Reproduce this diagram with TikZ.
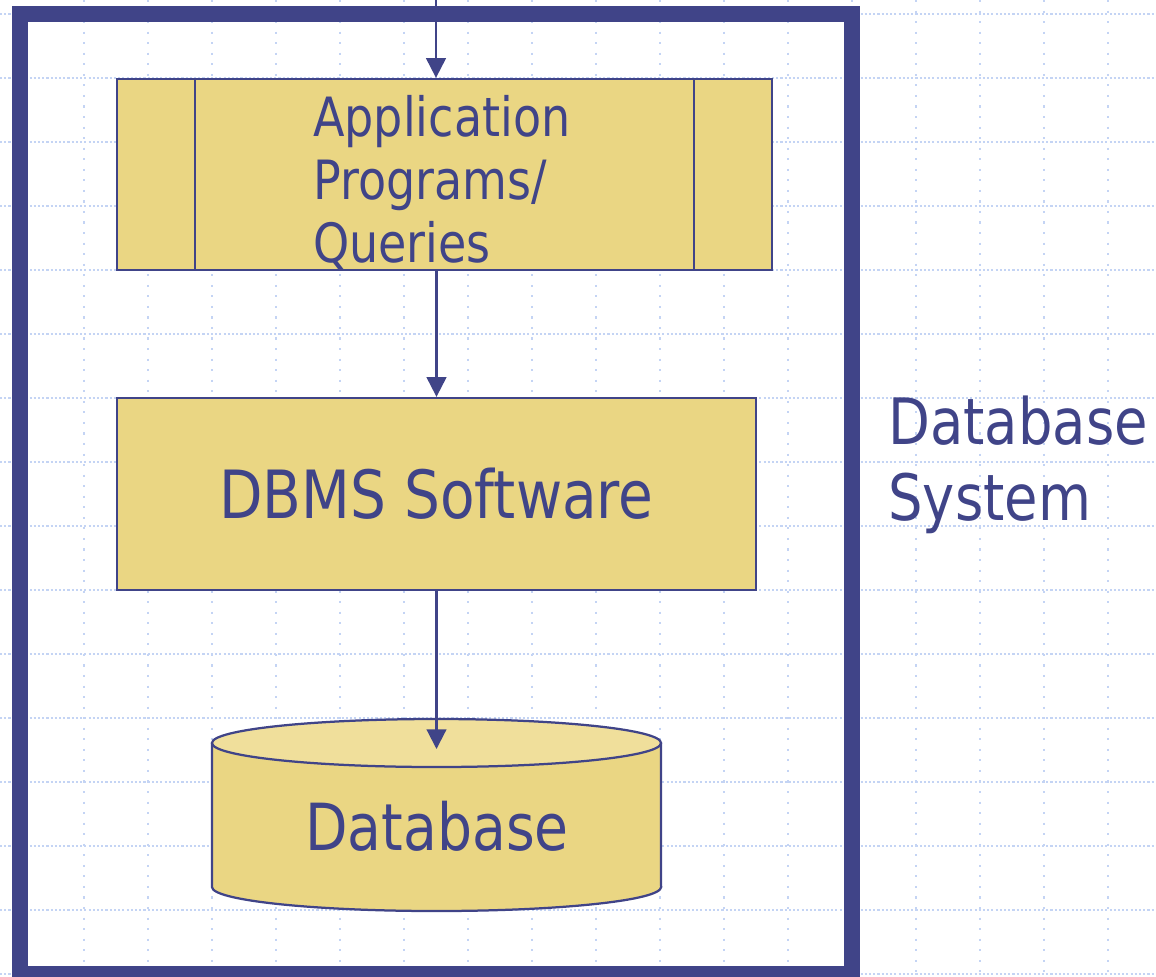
\documentclass[tikz,border=0pt]{standalone}
\usepackage{fontspec}
\setmainfont{DejaVu Sans}[FakeStretch=0.85]
\usetikzlibrary{arrows.meta,calc}
\definecolor{navy}{HTML}{404488}
\definecolor{sand}{HTML}{EAD683}
\definecolor{sandtop}{HTML}{F0DF9B}
\definecolor{gridblue}{HTML}{C4D4F4}

\begin{document}
\begin{tikzpicture}[x=0.025cm, y=-0.025cm,
        box/.style={draw=navy, fill=sand, line width=1.6pt, inner sep=0pt},
        flow/.style={draw=navy, line width=1.5pt, -{Triangle[length=14pt,width=14pt]}}]
      \tikzstyle{hgrid} = [draw=gridblue, line width=1pt, dash pattern=on 1.5pt off 1.5pt]
      \tikzstyle{vgrid} = [draw=gridblue, line width=1.2pt, dash pattern=on 1.5pt off 6pt]
      \tikzstyle{word} = [text=navy, inner sep=0pt, align=left]
      \useasboundingbox (0,0) rectangle (1156,976);
      \foreach \gx in {84,148,...,1108}
        \draw[vgrid] (\gx,0) -- (\gx,976);
      \foreach \gy in {14,78,...,974}
        \draw[hgrid] (0,\gy) -- (1156,\gy);
      \draw[navy, line width=11.4pt] (20,14) rectangle (852,974);
      \node (app) [box, minimum width=16.375cm, minimum height=4.775cm] at (444.5,174.5) {};
      \draw[navy, line width=1.6pt] ($(app.north west)+(79,0)$) -- ($(app.south west)+(79,0)$);
      \draw[navy, line width=1.6pt] ($(app.north east)-(79,0)$) -- ($(app.south east)-(79,0)$);
      \node (apptxt) [word, anchor=base west, font=\fontsize{38.5pt}{44.8pt}\selectfont] at (313,262)
        {Application\\Programs/\\Queries};
      \node (dbms) [box, text=navy, minimum width=15.975cm, minimum height=4.8cm,
        font=\fontsize{47.3pt}{54pt}\selectfont] at (436.5,494) {DBMS Software};
      \fill[sand] (212,743) rectangle (661,887);
      \draw[navy, fill=sand, line width=1.6pt] (212,743) -- (212,887)
        arc[start angle=180, end angle=360, x radius=5.6125cm, y radius=0.6cm] -- (661,743);
      \draw[navy, fill=sandtop, line width=1.6pt] (436.5,743) ellipse[x radius=5.6125cm, y radius=0.6cm];
      \node (db) [word, anchor=base, font=\fontsize{46.2pt}{54pt}\selectfont] at (437,850) {Database};
      \node (sys) [word, anchor=base west, font=\fontsize{45.5pt}{54pt}\selectfont] at (888,520)
        {Database\\System};
      \coordinate (entry) at (436,-5);
      \coordinate (dbtop) at (436.5,749);
      \draw[flow] (entry) -- (entry |- app.north);
      \draw[flow] (dbms.north |- app.south) -- (dbms.north);
      \draw[flow] (dbms.south) -- (dbtop);
    \end{tikzpicture}
\end{document}
